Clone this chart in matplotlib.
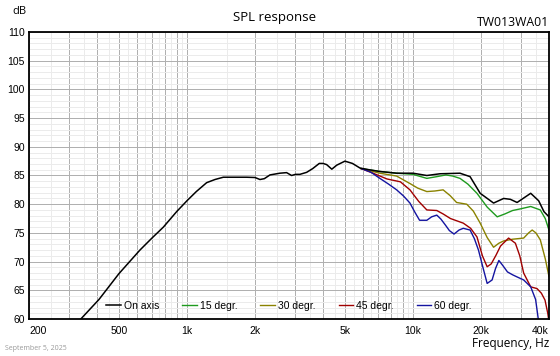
import matplotlib
matplotlib.use("Agg")
import matplotlib.pyplot as plt
from matplotlib.ticker import FixedLocator, NullFormatter

# on-axis response
on_f = [330, 408, 500, 619, 700, 786, 900, 1000, 1100, 1222, 1330, 1448, 1600, 1838,
        2000, 2104, 2200, 2330, 2450, 2578, 2760, 2905, 3020, 3160, 3385, 3600, 3850,
        4000, 4150, 4375, 4600, 5000, 5400, 5830, 6400, 7140, 8470, 10000, 11520, 13170,
        16150, 17900, 19840, 22740, 25200, 26980, 28900, 33200, 36000, 38000, 40000]
on_db = [59.5, 63.4, 67.9, 72.0, 74.1, 76.0, 78.7, 80.6, 82.2, 83.75, 84.3, 84.7, 84.7, 84.7,
         84.65, 84.3, 84.45, 85.1, 85.25, 85.4, 85.5, 85.0, 85.2, 85.2, 85.55, 86.2, 87.1,
         87.1, 86.9, 86.1, 86.8, 87.5, 87.1, 86.3, 86.0, 85.7, 85.4, 85.4, 85.0, 85.3,
         85.4, 84.8, 81.9, 80.2, 81.0, 80.85, 80.3, 81.9, 80.6, 78.7, 77.8]

f15 = [5900, 7140, 8470, 10000, 11520, 12750, 14000, 15000, 16150, 17500, 19200, 21300,
       23600, 25500, 27600, 30000, 33200, 36600, 38500, 40000]
db15 = [86.2, 85.7, 85.4, 85.2, 84.5, 84.8, 85.1, 84.9, 84.5, 83.5, 81.9, 79.5,
        77.8, 78.3, 78.9, 79.2, 79.6, 79.0, 77.5, 75.5]

f30 = [5900, 7140, 8470, 9700, 10500, 11520, 12500, 13600, 14600, 15600, 17300, 18500,
       19840, 21300, 22740, 24000, 25200, 27600, 30900, 32500, 33700, 35000, 36600, 38500, 40000]
db30 = [86.2, 85.4, 84.9, 83.6, 82.8, 82.2, 82.3, 82.5, 81.5, 80.3, 80.0, 78.8,
        76.7, 74.2, 72.5, 73.2, 73.6, 73.9, 74.1, 75.0, 75.5, 75.0, 73.8, 70.5, 67.4]

f45 = [5900, 6660, 7670, 8800, 9700, 10600, 11520, 12750, 13600, 14660, 16700, 18000,
       19200, 20300, 21300, 22200, 23300, 24400, 26500, 28400, 29700, 30900, 33200, 35400,
       37000, 38400, 39500, 40000]
db45 = [86.2, 85.4, 84.4, 83.9, 82.5, 80.5, 79.0, 78.9, 78.3, 77.5, 76.7, 75.8,
        74.3, 71.0, 69.1, 69.6, 71.1, 72.7, 74.1, 73.2, 71.0, 68.0, 65.6, 65.3,
        64.5, 63.3, 61.0, 59.5]

f60 = [5900, 6500, 7140, 7800, 8470, 9100, 9700, 10200, 10700, 11520, 12100, 12750, 13300,
       13900, 14500, 15200, 16000, 16700, 17900, 18700, 19500, 20400, 21300, 22400, 23200,
       24000, 25000, 26200, 27600, 29000, 30900, 33200, 34900, 36000]
db60 = [86.2, 85.6, 84.5, 83.5, 82.5, 81.4, 80.2, 78.6, 77.2, 77.2, 77.8, 78.1, 77.4,
        76.4, 75.4, 74.8, 75.5, 75.8, 75.5, 74.0, 72.0, 69.0, 66.2, 66.8, 68.8,
        70.2, 69.3, 68.2, 67.7, 67.3, 66.8, 65.6, 63.4, 59.5]

xtick_vals = [200, 500, 1000, 2000, 5000, 10000, 20000, 40000]
xtick_labels = ["200", "500", "1k", "2k", "5k", "10k", "20k", "40k"]
yticks = list(range(60, 111, 5))

fig = plt.figure(figsize=(5.6, 3.56), dpi=100)
ax = fig.add_axes([29/560, 1-319/356, 520/560, 287/356])

ax.set_xscale("log")
ax.set_xlim(200, 40000)
ax.set_ylim(60, 110)

# grid: majors at integer multiples, minors at half steps
major = []
minor = []
for dec in [100, 1000, 10000]:
    for m in range(1, 10):
        v = m * dec
        if 200 <= v <= 40000:
            major.append(v)
        h = (m + 0.5) * dec
        if 200 < h < 40000:
            minor.append(h)
ax.xaxis.set_major_locator(FixedLocator(major))
ax.xaxis.set_minor_locator(FixedLocator(minor))
ax.xaxis.set_major_formatter(NullFormatter())
ax.xaxis.set_minor_formatter(NullFormatter())
ax.set_yticks(yticks)
ax.set_yticks(range(60, 111), minor=True)
ax.grid(which="major", color="#b0b0b0", linewidth=0.72)
ax.grid(which="minor", color="#ebebeb", linewidth=0.72)
ax.tick_params(which="both", length=0)
ax.tick_params(axis="y", labelsize=7.5, pad=3)
for lab in ax.get_yticklabels():
    lab.set_fontfamily("Liberation Sans")

# x labels as text so the end labels can sit inside
for v, t in zip(xtick_vals, xtick_labels):
    ha = "center"
    if v == 200:
        ha = "left"
    elif v == 40000:
        ha = "right"
    ax.text(v, -0.025, t, transform=ax.get_xaxis_transform(), ha=ha, va="top",
            fontsize=7.5, family="Liberation Sans")

ax.plot(f15, db15, color="#1e9a1e", lw=1.0, label="15 degr.")
ax.plot(f30, db30, color="#8a8200", lw=1.0, label="30 degr.")
ax.plot(f45, db45, color="#a00000", lw=1.0, label="45 degr.")
ax.plot(f60, db60, color="#1414a0", lw=1.0, label="60 degr.")
ax.plot(on_f, on_db, color="black", lw=1.1, label="On axis", zorder=5)

for s in ax.spines.values():
    s.set_linewidth(1.3)
    s.set_color("black")

h, l = ax.get_legend_handles_labels()
order = [4, 0, 1, 2, 3]
leg = ax.legend([h[i] for i in order], [l[i] for i in order], loc="lower center",
                ncol=5, frameon=False, handlelength=1.4, handletextpad=0.3,
                columnspacing=2.2, bbox_to_anchor=(0.5, -0.005),
                prop={"family": "Liberation Sans", "size": 7.5})

fig.text(12/560, 1-12/356, "dB", fontsize=8, family="Open Sans", va="center", ha="left")
fig.text(275/560, 1-17/356, "SPL response", fontsize=9.5, family="Open Sans",
         va="center", ha="center")
fig.text(549/560, 1-23/356, "TW013WA01", fontsize=8.8, family="Open Sans",
         va="center", ha="right")
fig.text(549/560, 1-344/356, "Frequency, Hz", fontsize=8.5, family="Open Sans",
         va="center", ha="right")
fig.text(5/560, 1-349/356, "September 5, 2025", fontsize=5, family="Open Sans",
         color="#999999", va="center", ha="left")

fig.savefig("out.png", dpi=100)
